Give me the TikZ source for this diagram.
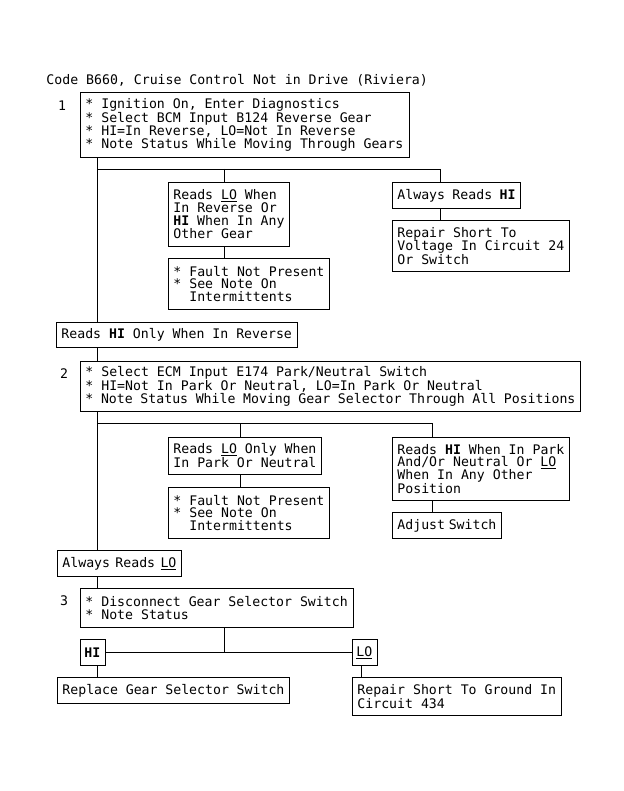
\documentclass[tikz,border=0pt]{standalone}
\usepackage{fontspec}
\setmainfont{DejaVu Sans Mono}[WordSpace={1,0,0}]
\newcommand{\bhi}{\textbf{HI}}
\newcommand{\ulo}{\underline{LO}}
\begin{document}
\begin{tikzpicture}[x=1pt, y=-1pt, line width=0.9pt,
        every node/.style={font=\fontsize{13.2}{12.6}\selectfont},
        box/.style={draw, anchor=north west, align=flush left, inner xsep=5pt, inner ysep=0pt,
            execute at begin node={\spaceskip=7.95pt minus 7.95pt\xspaceskip=\spaceskip\linepenalty=5000\relax}},
        tag/.style={inner sep=0pt}]
                \useasboundingbox (0,0) rectangle (623,791);

                % Title
                \node [tag, anchor=west] (title) at (46,80.5) {Code B660, Cruise Control Not in Drive (Riviera)};

                % Step 1
                \node [tag] (n1) at (62,106) {1};
                \node [box, text width=319, minimum height=65] (b1) at (80,92)
                    {* Ignition On, Enter Diagnostics\\{}%
                     * Select BCM Input B124 Reverse Gear\\{}%
                     * HI=In Reverse, LO=Not In Reverse\\{}%
                     * Note Status While Moving Through Gears};
                \node [box, text width=111, minimum height=64] (r1a) at (168,182)
                    {Reads \ulo{} When\\In Reverse Or\\\bhi{} When In Any\\Other Gear};
                \node [box, text width=151, minimum height=51] (r1b) at (168,258)
                    {* Fault Not Present\\{}* See Note On\\\phantom{* }Intermittents};
                \node [box, text width=118, minimum height=26] (r1c) at (392,182)
                    {Always Reads \bhi};
                \node [box, text width=167, minimum height=51] (r1d) at (392,220)
                    {Repair Short To\\Voltage In Circuit 24\\Or Switch};
                \node [box, text width=231, minimum height=25] (r1e) at (56,322)
                    {Reads \bhi{} Only When In Reverse};

                % Step 2
                \node [tag] (n2) at (64,374) {2};
                \node [box, text width=490, minimum height=50] (b2) at (80,361)
                    {* Select ECM Input E174 Park/Neutral Switch\\{}%
                     * HI=Not In Park Or Neutral, LO=In Park Or Neutral\\{}%
                     * Note Status While Moving Gear Selector Through All Positions};
                \node [box, text width=143, minimum height=37] (r2a) at (168,437)
                    {Reads \ulo{} Only When\\In Park Or Neutral};
                \node [box, text width=151, minimum height=51] (r2b) at (168,487)
                    {* Fault Not Present\\{}* See Note On\\\phantom{* }Intermittents};
                \node [box, text width=167, minimum height=63] (r2c) at (392,437)
                    {Reads \bhi{} When In Park\\And/Or Neutral Or \ulo\\When In Any Other\\Position};
                \node [box, text width=99, minimum height=26] (r2d) at (392,512)
                    {Adjust Switch};
                \node [box, text width=114, minimum height=26] (r2e) at (57,550)
                    {Always Reads \ulo};

                % Step 3
                \node [tag] (n3) at (64,601) {3};
                \node [box, text width=263, minimum height=39] (b3) at (80,588)
                    {* Disconnect Gear Selector Switch\\{}* Note Status};
                \node [box, inner xsep=4pt, text width=17, minimum height=26] (hi) at (80,639) {\bhi};
                \node [box, inner xsep=4pt, text width=17, minimum height=26] (lo) at (352,639) {\ulo};
                \node [box, text width=222, minimum height=26] (r3a) at (57,677)
                    {Replace Gear Selector Switch};
                \node [box, text width=199, minimum height=38] (r3b) at (352,677)
                    {Repair Short To Ground In\\Circuit 434};

                % Junctions
                \coordinate (t1) at (97,169);
                \coordinate (t1a) at (224,169);
                \coordinate (t1b) at (440,169);
                \coordinate (t2) at (97,423);
                \coordinate (t2a) at (240,423);
                \coordinate (t2b) at (432,423);
                \coordinate (t3) at (224,652);
                \coordinate (t3b) at (361,652);

                % Drawing lines of step 1
                \draw (b1.south -| t1) -- (r1e.north -| t1);%
                \draw (t1) -- (t1b);%
                \draw (t1a) -- (t1a |- r1a.north);%
                \draw (t1b) -- (t1b |- r1c.north);%
                \draw (r1a.south -| t1a) -- (r1b.north -| t1a);%
                \draw (r1c.south -| t1b) -- (r1d.north -| t1b);%
                \draw (r1e.south -| t1) -- (b2.north -| t1);%

                % Drawing lines of step 2
                \draw (b2.south -| t2) -- (r2e.north -| t2);%
                \draw (t2) -- (t2b);%
                \draw (t2a) -- (t2a |- r2a.north);%
                \draw (t2b) -- (t2b |- r2c.north);%
                \draw (r2a.south -| t2a) -- (r2b.north -| t2a);%
                \draw (r2c.south -| t2b) -- (r2d.north -| t2b);%
                \draw (r2e.south -| t2) -- (b3.north -| t2);%

                % Drawing lines of step 3
                \draw (b3.south -| t3) -- (t3);%
                \draw (hi) -- (lo);%
                \draw (hi.south -| t2) -- (r3a.north -| t2);%
                \draw (lo.south -| t3b) -- (r3b.north -| t3b);%
\end{tikzpicture}
\end{document}
